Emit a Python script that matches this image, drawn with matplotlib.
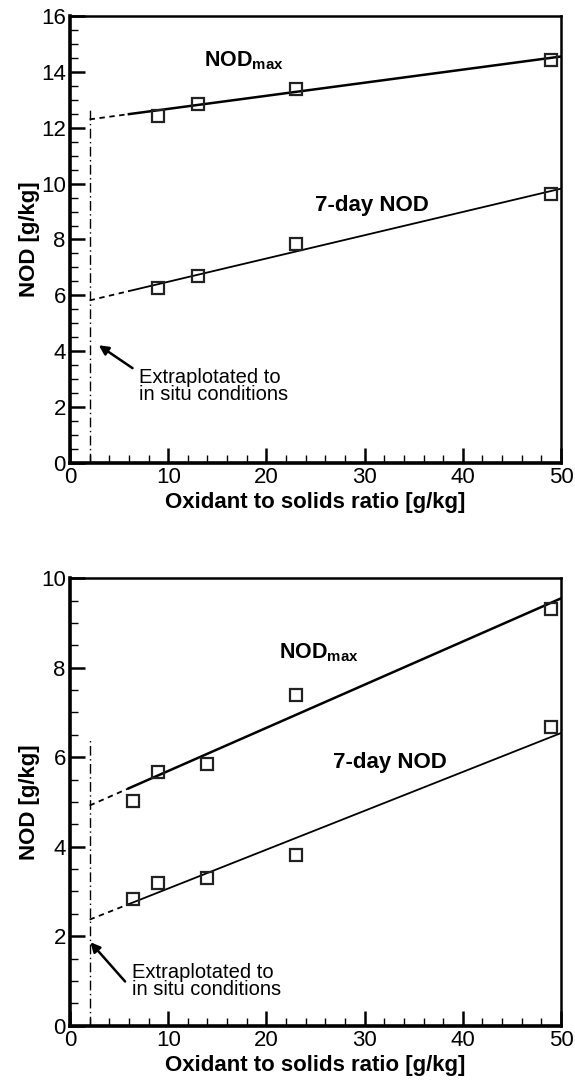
import numpy as np
import matplotlib
matplotlib.use('Agg')
import matplotlib.pyplot as plt
from matplotlib.ticker import MultipleLocator

plt.rcParams['font.family'] = ['Liberation Sans', 'DejaVu Sans']

# 上圖資料
x_top = [9, 13, 23, 49]
nodmax_top = [12.42, 12.85, 13.37, 14.42]
nod7_top = [6.28, 6.68, 7.83, 9.64]
# 擬合線在 x=2 與 x=50 的值
fit_x = [2, 50]
fit_max_top = [12.3, 14.55]
fit_7_top = [5.82, 9.82]

# 下圖資料
x_bot = [6.4, 9, 14, 23, 49]
nodmax_bot = [5.03, 5.67, 5.85, 7.38, 9.31]
nod7_bot = [2.84, 3.19, 3.29, 3.82, 6.67]
fit_max_bot = [4.92, 9.55]
fit_7_bot = [2.37, 6.54]

insitu_x = 2
solid_start = 6

fig = plt.figure(figsize=(5.75, 10.81), dpi=100)
ax1 = fig.add_axes([0.1217, 0.5717, 0.854, 0.4135])
ax2 = fig.add_axes([0.1217, 0.0512, 0.854, 0.4139])


def draw_panel(ax, xs, ymax_pts, y7_pts, fmax, f7, ylim, vtop, lab_max, lab_7, arrow, txt):
    for fit, lw in [(fmax, 1.8), (f7, 1.3)]:
        y6 = np.interp(solid_start, fit_x, fit)
        ax.plot([fit_x[0], solid_start], [fit[0], y6], color='black', lw=1.3, ls=(0, (3, 2.5)))
        ax.plot([solid_start, fit_x[1]], [y6, fit[1]], color='black', lw=lw)
    ax.plot(xs, ymax_pts, 's', ms=9, mfc='none', mec='#222222', mew=1.6, clip_on=False)
    ax.plot(xs, y7_pts, 's', ms=9, mfc='none', mec='#222222', mew=1.6, clip_on=False)
    # 現地條件的垂直線
    ax.plot([insitu_x, insitu_x], [0, vtop], color='black', lw=1.0, ls=(0, (7, 2.5, 1, 2.5)))
    ax.text(lab_max[0], lab_max[1], r'NOD$_{\mathregular{max}}$', fontsize=15.5, fontweight='bold', va='center')
    ax.text(lab_7[0], lab_7[1], '7-day NOD', fontsize=16, fontweight='bold', va='center')
    ax.annotate('', xy=arrow[0], xytext=arrow[1],
                arrowprops=dict(arrowstyle='-|>', color='black', lw=1.8, mutation_scale=14))
    ax.text(txt[0], txt[1], 'Extraplotated to\nin situ conditions', fontsize=14.5,
            va='center', ha='left', linespacing=0.9)

    ax.set_xlim(0, 50)
    ax.set_ylim(*ylim)
    ax.xaxis.set_major_locator(MultipleLocator(10))
    ax.xaxis.set_minor_locator(MultipleLocator(2))
    ax.yaxis.set_major_locator(MultipleLocator(2))
    ax.yaxis.set_minor_locator(MultipleLocator(0.5))
    ax.tick_params(which='major', direction='in', length=11, width=1.8, labelsize=16, pad=3)
    ax.tick_params(which='minor', direction='in', length=6, width=1.0)
    ax.spines['left'].set_linewidth(2.6)
    ax.spines['bottom'].set_linewidth(2.6)
    ax.spines['top'].set_linewidth(1.8)
    ax.spines['right'].set_linewidth(1.8)
    ax.set_xlabel('Oxidant to solids ratio [g/kg]', fontsize=16, fontweight='bold', labelpad=3)
    ax.set_ylabel('NOD [g/kg]', fontsize=16, fontweight='bold', labelpad=1)


draw_panel(ax1, x_top, nodmax_top, nod7_top, fit_max_top, fit_7_top, (0, 16), 12.7,
           (13.6, 14.4), (24.9, 9.23), ((2.7, 4.27), (6.6, 3.34)), (7.0, 2.75))
draw_panel(ax2, x_bot, nodmax_bot, nod7_bot, fit_max_bot, fit_7_bot, (0, 10), 6.41,
           (21.3, 8.33), (26.8, 5.88), ((1.9, 1.91), (5.8, 0.94)), (6.3, 1.0))

plt.savefig('out.png', dpi=100)
plt.close()
